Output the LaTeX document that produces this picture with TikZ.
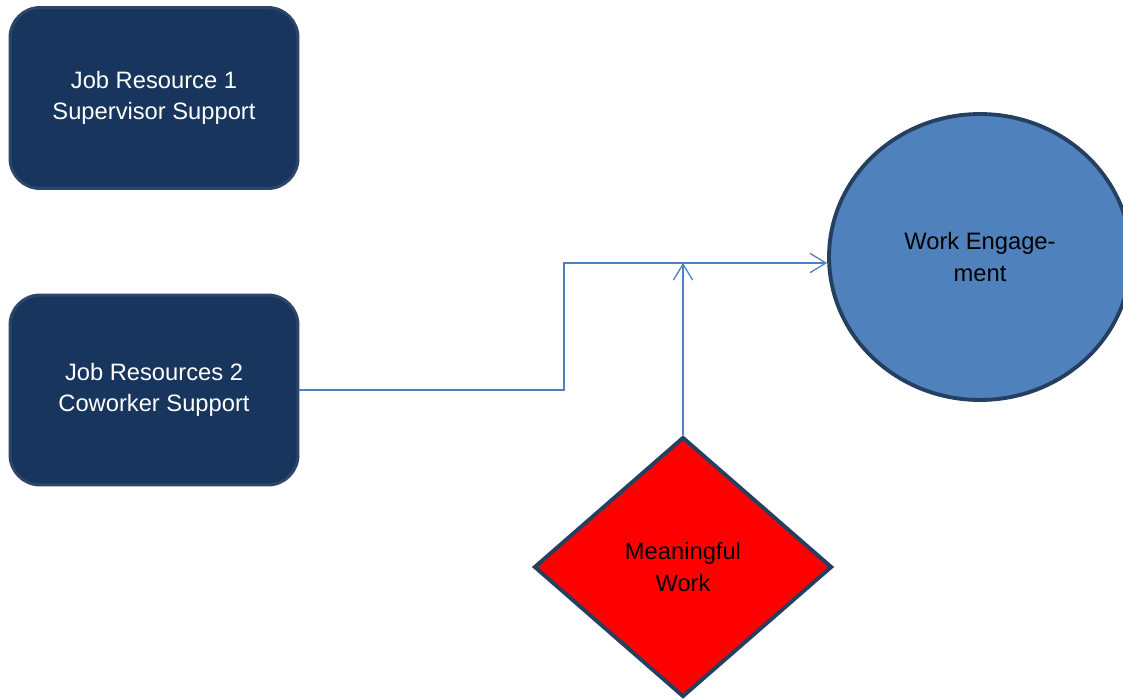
\documentclass[tikz,border=0pt]{standalone}
\usepackage{fontspec}
\setmainfont{Liberation Sans}
\usetikzlibrary{shapes.geometric,arrows.meta}

\definecolor{boxnavy}{HTML}{18365D}
\definecolor{boxrim}{HTML}{2C4568}
\definecolor{linkblue}{HTML}{4F81BD}
\definecolor{darkrim}{HTML}{243F60}

\tikzset{
  resource/.style={draw=boxrim, fill=boxnavy, line width=1.7pt, rounded corners=0.6cm,
    minimum width=5.76cm, minimum height=3.62cm, text=white, align=center,
    font=\fontsize{13.5}{18}\selectfont},
  outcome/.style={ellipse, draw=darkrim, fill=linkblue, line width=2.2pt,
    minimum width=6.04cm, minimum height=5.72cm, align=center,
    font=\fontsize{13.5}{18}\selectfont},
  moderator/.style={diamond, draw=darkrim, fill=red, line width=2.2pt, inner sep=0pt,
    minimum width=5.96cm, minimum height=5.2cm, align=center,
    font=\fontsize{13.5}{18}\selectfont},
  link/.style={draw=linkblue, line width=0.75pt, -{Straight Barb[length=9pt,width=11pt]}}
}

\begin{document}
\begin{tikzpicture}[x=0.02cm, y=-0.02cm]
  \useasboundingbox (0, 0) rectangle (1123, 700);

  % Job resources
  \node[resource] (jr1) at (154, 98) {Job Resource 1\\Supervisor Support};
  \node[resource, minimum height=3.8cm] (jr2) at (154, 390) {Job Resources 2\\Coworker Support};

  % Outcome and moderator
  \node[outcome] (we) at (980, 257) {Work Engage-\\ment};
  \node[moderator] (mw) at (683, 567) {Meaningful\\Work};

  % Connectors
  \coordinate (bend) at (564, 263);
  \draw[link] (jr2.east) -| (bend) -- (bend -| we.west);
  \draw[link] (mw.north) -- (mw.north |- bend);
\end{tikzpicture}
\end{document}
